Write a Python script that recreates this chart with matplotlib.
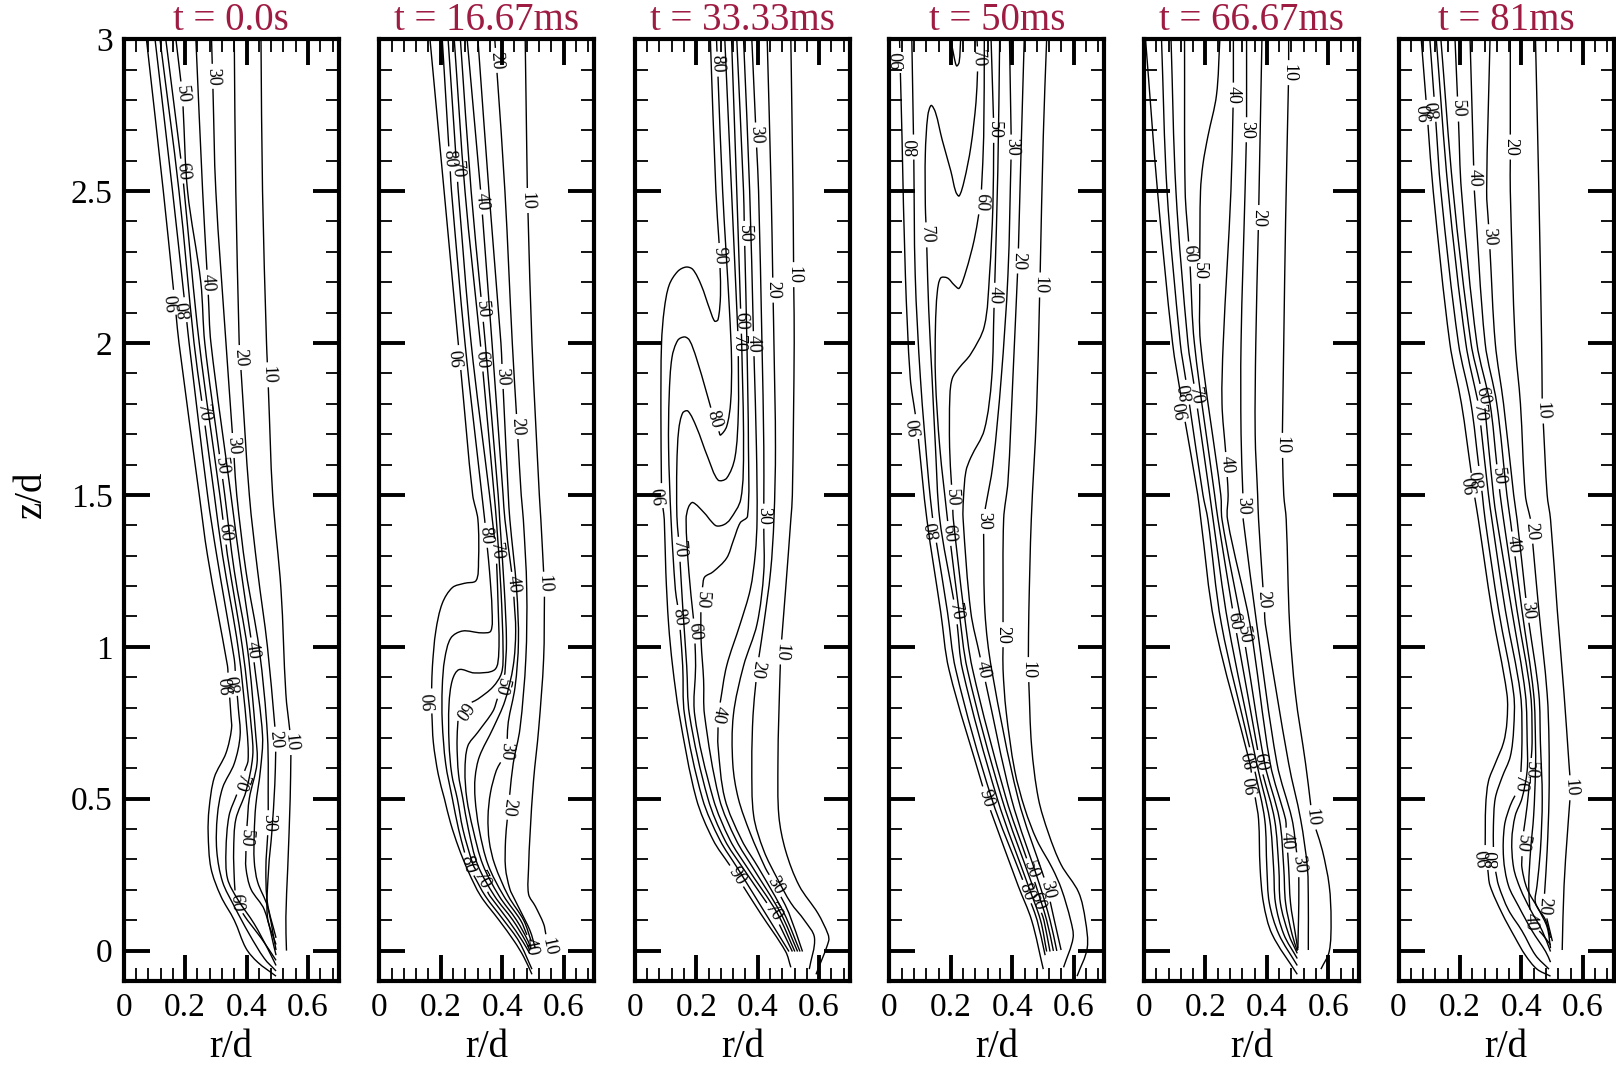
import numpy as np
import matplotlib
matplotlib.use('Agg')
import matplotlib.pyplot as plt
from matplotlib.ticker import MultipleLocator, FixedLocator
from matplotlib.path import Path
from matplotlib.patches import PathPatch

plt.rcParams['font.family'] = ['Liberation Serif', 'DejaVu Serif']

# ---------------- data ----------------
TITLES = ['t = 0.0s', 't = 16.67ms', 't = 33.33ms', 't = 50ms', 't = 66.67ms', 't = 81ms']
R_TICKS = [0, 0.2, 0.4, 0.6]
R_TICK_LABELS = ['0', '0.2', '0.4', '0.6']
Z_TICKS = [0, 0.5, 1, 1.5, 2, 2.5, 3]
Z_TICK_LABELS = ['0', '0.5', '1', '1.5', '2', '2.5', '3']

# contour lines: (level, r/d values, z/d values)
LINES_T0 = [
    (10, [0.447, 0.452, 0.465, 0.485, 0.512, 0.528, 0.545, 0.542, 0.534, 0.528, 0.530],
         [3.0, 2.5, 2.0, 1.5, 1.19, 0.845, 0.685, 0.50, 0.27, 0.11, 0.0]),
    (20, [0.360, 0.365, 0.376, 0.409, 0.436, 0.468, 0.496, 0.492, 0.482, 0.472, 0.468, 0.496],
         [3.0, 2.5, 2.0, 1.5, 1.25, 1.0, 0.696, 0.547, 0.386, 0.272, 0.111, 0.02]),
    (30, [0.286, 0.300, 0.333, 0.368, 0.398, 0.441, 0.468, 0.471, 0.463, 0.468, 0.496],
         [3.0, 2.5, 2.0, 1.5, 1.25, 0.994, 0.708, 0.421, 0.272, 0.157, 0.042]),
    (40, [0.235, 0.257, 0.284, 0.349, 0.382, 0.420, 0.452, 0.445, 0.430, 0.425, 0.425, 0.436, 0.468, 0.496],
         [3.0, 2.5, 2.0, 1.5, 1.25, 0.989, 0.708, 0.593, 0.478, 0.386, 0.295, 0.226, 0.146, 0.002]),
    (50, [0.170, 0.191, 0.208, 0.251, 0.264, 0.329, 0.360, 0.403, 0.430, 0.434, 0.409, 0.398, 0.398, 0.414, 0.458, 0.496],
         [3.0, 2.82, 2.5, 2.2, 2.0, 1.5, 1.25, 0.994, 0.708, 0.616, 0.501, 0.369, 0.272, 0.203, 0.134, -0.015]),
    (60, [0.137, 0.191, 0.197, 0.246, 0.313, 0.338, 0.387, 0.416, 0.420, 0.398, 0.365, 0.358, 0.360, 0.365, 0.403, 0.447, 0.496],
         [3.0, 2.566, 2.5, 2.0, 1.5, 1.30, 0.994, 0.73, 0.64, 0.524, 0.432, 0.329, 0.237, 0.157, 0.10, 0.042, -0.032]),
    (70, [0.118, 0.180, 0.229, 0.295, 0.322, 0.373, 0.401, 0.405, 0.376, 0.343, 0.333, 0.338, 0.371, 0.425, 0.468, 0.496],
         [3.0, 2.5, 2.0, 1.5, 1.30, 0.994, 0.73, 0.627, 0.536, 0.444, 0.329, 0.237, 0.169, 0.088, 0.008, -0.049]),
    (80, [0.102, 0.159, 0.213, 0.273, 0.303, 0.360, 0.373, 0.379, 0.360, 0.322, 0.305, 0.303, 0.322, 0.360, 0.409, 0.458, 0.496],
         [3.0, 2.5, 2.0, 1.5, 1.30, 0.96, 0.80, 0.708, 0.616, 0.536, 0.444, 0.329, 0.226, 0.146, 0.054, -0.026, -0.067]),
    (90, [0.074, 0.129, 0.180, 0.246, 0.273, 0.338, 0.349, 0.351, 0.333, 0.295, 0.278, 0.275, 0.284, 0.316, 0.360, 0.398, 0.436, 0.496],
         [3.0, 2.5, 2.0, 1.5, 1.30, 0.937, 0.776, 0.73, 0.65, 0.57, 0.467, 0.386, 0.272, 0.18, 0.10, 0.008, -0.038, -0.084]),
]
# labels: (level, r/d, z/d, reads upward)
LABELS_T0 = [(50, .191, 2.82, 0), (30, .295, 2.878, 0), (60, .191, 2.566, 0), (40, .273, 2.20, 0),
             (90, .164, 2.134, 1), (80, .213, 2.111, 1), (20, .376, 1.952, 0), (10, .463, 1.895, 0),
             (70, .267, 1.77, 0), (30, .36, 1.663, 0), (50, .322, 1.594, 0), (60, .333, 1.378, 0),
             (40, .42, .99, 0), (90, .343, .874, 1), (80, .371, .88, 1), (20, .496, .696, 0),
             (10, .545, .685, 0), (70, .398, .547, 0), (30, .471, .421, 0), (50, .398, .369, 0),
             (60, .365, .157, 0)]

LINES_T16 = [
    (10, [.475, .482, .497, .521, .526, .538, .535, .519, .502, .491, .486, .486, .508, .535, .552],
         [3.0, 2.5, 2.0, 1.5, 1.419, 1.189, .960, .731, .558, .386, .272, .186, .146, .088, .008]),
    (20, [.376, .409, .433, .462, .469, .480, .477, .458, .436, .420, .411, .411, .425, .440, .458, .491, .508],
         [3.0, 2.5, 2.0, 1.5, 1.419, 1.189, .960, .731, .616, .472, .364, .272, .203, .17, .134, .065, .008]),
    (30, [.321, .357, .396, .420, .425, .447, .453, .442, .420, .414, .381, .362, .354, .358, .376, .420, .470, .495],
         [3.0, 2.5, 2.0, 1.5, 1.419, 1.189, 1.017, .868, .753, .656, .593, .52, .44, .36, .283, .18, .10, .03]),
    (40, [.286, .330, .367, .403, .409, .436, .444, .436, .409, .370, .326, .312, .312, .325, .354, .405, .460, .490, .495],
         [3.0, 2.5, 2.0, 1.5, 1.419, 1.206, 1.052, .937, .822, .731, .639, .57, .5, .40, .283, .18, .10, .03, .005]),
    (50, [.264, .299, .345, .387, .392, .407, .414, .409, .398, .370, .321, .288, .279, .285, .305, .337, .390, .447, .485, .493],
         [3.0, 2.5, 2.0, 1.5, 1.419, 1.189, 1.017, .914, .868, .788, .719, .673, .593, .5, .40, .283, .18, .10, .03, .005]),
    (60, [.244, .279, .329, .374, .381, .396, .403, .398, .370, .321, .277, .257, .253, .258, .272, .290, .320, .375, .435, .477, .490],
         [3.0, 2.5, 2.0, 1.5, 1.419, 1.189, .983, .914, .868, .828, .805, .776, .685, .58, .5, .40, .283, .18, .10, .03, .0]),
    (70, [.224, .257, .299, .359, .368, .381, .387, .389, .376, .310, .260, .238, .227, .227, .236, .254, .272, .305, .360, .420, .467, .490],
         [3.0, 2.5, 2.0, 1.5, 1.419, 1.304, 1.132, .983, .925, .914, .925, .891, .811, .685, .58, .5, .40, .283, .18, .10, .03, -.01]),
    (80, [.205, .235, .279, .334, .343, .359, .367, .363, .332, .271, .233, .213, .205, .205, .216, .238, .258, .288, .345, .405, .455, .497],
         [3.0, 2.5, 2.0, 1.5, 1.419, 1.247, 1.12, 1.052, 1.046, 1.052, 1.029, .960, .868, .753, .616, .5, .40, .283, .18, .10, .03, -.061]),
    (90, [.165, .211, .257, .304, .321, .323, .315, .277, .238, .205, .184, .173, .169, .176, .192, .212, .232, .258, .290, .330, .390, .440, .470, .497],
         [3.0, 2.5, 2.0, 1.5, 1.419, 1.281, 1.218, 1.209, 1.195, 1.143, 1.052, .937, .822, .685, .58, .5, .42, .34, .26, .18, .10, .03, -.02, -.078]),
]
LABELS_T16 = [(20, .376, 2.93, 0), (80, .227, 2.606, 0), (70, .257, 2.572, 0), (40, .334, 2.464, 0),
              (10, .480, 2.469, 0), (50, .337, 2.111, 0), (90, .260, 1.952, 1), (60, .332, 1.947, 0),
              (30, .403, 1.89, 0), (20, .447, 1.725, 0), (80, .348, 1.367, 0), (70, .381, 1.315, 0),
              (40, .436, 1.206, 0), (10, .535, 1.206, 0), (50, .398, .868, 0), (90, .173, .822, 1),
              (60, .260, .80, 0), (30, .414, .656, 0), (20, .420, .472, 0), (80, .288, .283, 0),
              (70, .315, .220, 0), (40, .497, .014, 0), (10, .552, .014, 0)]

LINES_T33 = [
    (10, [.508, .515, .519, .513, .508, .491, .475, .469, .466, .469, .491, .535, .596, .629, .631, .590],
         [3.0, 2.5, 2.0, 1.5, 1.419, 1.189, .983, .776, .616, .444, .329, .214, .123, .054, .031, -.078]),
    (20, [.431, .444, .453, .458, .453, .442, .420, .398, .385, .381, .387, .420, .464, .508, .552, .585, .568],
         [3.0, 2.5, 2.0, 1.657, 1.419, 1.247, 1.075, .925, .776, .616, .444, .329, .237, .157, .10, .042, -.061]),
    (30, [.381, .403, .414, .420, .420, .420, .398, .354, .321, .319, .337, .376, .425, .458, .502, .546],
         [3.0, 2.5, 2.0, 1.657, 1.419, 1.247, 1.075, .937, .776, .616, .501, .386, .272, .214, .123, -.003]),
    (40, [.354, .374, .387, .396, .398, .392, .376, .343, .299, .271, .271, .293, .348, .403, .486, .538],
         [3.0, 2.5, 2.0, 1.657, 1.419, 1.304, 1.189, 1.075, .937, .776, .673, .501, .364, .272, .123, -.003]),
    (50, [.332, .354, .365, .370, .367, .343, .321, .299, .255, .227, .219, .215, .216, .224, .227, .275, .330, .385, .475, .530],
         [3.0, 2.5, 2.0, 1.657, 1.43, 1.408, 1.35, 1.292, 1.247, 1.229, 1.189, 1.12, 1.017, .891, .776, .501, .364, .272, .123, -.003]),
    (60, [.315, .332, .348, .354, .345, .310, .290, .266, .249, .227, .189, .175, .167, .176, .195, .198, .195, .255, .310, .367, .464, .521],
         [3.0, 2.5, 2.0, 1.657, 1.486, 1.419, 1.402, 1.398, 1.413, 1.44, 1.475, 1.46, 1.419, 1.247, 1.052, .937, .776, .501, .364, .272, .123, -.003]),
    (70, [.293, .315, .337, .337, .326, .299, .271, .238, .200, .173, .156, .143, .137, .137, .145, .156, .169, .178, .238, .293, .352, .453, .513],
         [3.0, 2.5, 2.0, 1.77, 1.623, 1.555, 1.549, 1.623, 1.725, 1.776, 1.770, 1.714, 1.60, 1.43, 1.321, 1.132, .937, .776, .501, .364, .272, .123, -.003]),
    (80, [.266, .286, .308, .315, .312, .299, .279, .260, .233, .200, .178, .162, .140, .121, .112, .110, .118, .132, .145, .156, .162, .220, .277, .334, .425, .502],
         [3.0, 2.5, 2.111, 1.941, 1.805, 1.725, 1.697, 1.742, 1.839, 1.952, 2.009, 2.020, 2.009, 1.952, 1.827, 1.657, 1.419, 1.189, 1.097, .937, .776, .501, .364, .272, .123, -.003]),
    (90, [.246, .264, .277, .279, .271, .260, .244, .216, .189, .167, .140, .112, .096, .087, .085, .087, .096, .101, .110, .123, .145, .200, .255, .315, .409, .491, .508],
         [3.0, 2.501, 2.288, 2.157, 2.077, 2.072, 2.111, 2.191, 2.242, 2.25, 2.236, 2.191, 2.111, 1.998, 1.77, 1.498, 1.419, 1.247, 1.075, .937, .776, .501, .364, .272, .123, -.003, -.055]),
]
LABELS_T33 = [(80, .271, 2.918, 0), (30, .403, 2.685, 0), (50, .365, 2.361, 0), (90, .277, 2.288, 0),
              (10, .513, 2.225, 0), (20, .447, 2.174, 0), (60, .348, 2.072, 0), (70, .337, 1.998, 0),
              (40, .398, 1.998, 0), (80, .260, 1.748, 0), (90, .090, 1.498, 1), (30, .403, 1.43, 0),
              (70, .145, 1.321, 0), (50, .216, 1.155, 0), (80, .145, 1.097, 0), (60, .195, 1.052, 0),
              (10, .475, .983, 0), (20, .398, .925, 0), (40, .271, .776, 0), (90, .337, .249, 0),
              (30, .458, .214, 0), (70, .453, .123, 0)]

LINES_T50 = [
    (10, [.512, .501, .490, .479, .462, .454, .452, .463, .485, .518, .559, .616, .638, .644, .611],
         [3.0, 2.68, 2.191, 1.77, 1.42, 1.115, .925, .673, .501, .386, .283, .192, .10, .008, -.084]),
    (20, [.439, .430, .419, .402, .386, .372, .370, .370, .380, .408, .441, .480, .530, .560, .590, .598, .567],
         [3.0, 2.68, 2.27, 1.884, 1.543, 1.42, 1.115, .925, .788, .593, .467, .364, .272, .203, .10, .042, -.055]),
    (30, [.391, .397, .386, .364, .337, .306, .311, .333, .419, .512, .537, .559],
         [3.0, 2.645, 2.225, 1.884, 1.6, 1.42, 1.115, .925, .501, .214, .10, .002]),
    (40, [.359, .353, .342, .333, .309, .265, .249, .241, .240, .265, .304, .397, .490, .523, .545],
         [3.0, 2.566, 2.157, 1.884, 1.714, 1.623, 1.577, 1.486, 1.42, 1.115, .925, .501, .214, .10, -.001]),
    (50, [.331, .340, .337, .326, .309, .265, .227, .205, .197, .196, .208, .243, .271, .380, .477, .512, .534],
         [3.0, 2.702, 2.452, 2.225, 2.055, 1.964, 1.918, 1.884, 1.827, 1.657, 1.42, 1.115, .925, .501, .214, .10, -.001]),
    (60, [.309, .307, .298, .276, .249, .227, .211, .189, .167, .156, .150, .150, .164, .189, .227, .254, .366, .466, .503, .523],
         [3.0, 2.68, 2.464, 2.339, 2.236, 2.18, 2.191, 2.214, 2.214, 2.168, 2.055, 1.884, 1.657, 1.42, 1.115, .925, .501, .214, .10, -.003]),
    (70, [.285, .289, .282, .265, .243, .227, .216, .200, .172, .150, .136, .125, .117, .117, .121, .128, .139, .150, .164, .216, .238, .351, .452, .492, .512],
         [3.0, 2.935, 2.793, 2.645, 2.532, 2.484, 2.498, 2.566, 2.668, 2.759, 2.782, 2.748, 2.623, 2.452, 2.339, 2.111, 1.884, 1.657, 1.42, 1.115, .925, .501, .214, .10, -.003]),
    (80, [.073, .079, .084, .101, .128, .141, .189, .216, .333, .441, .481, .507],
         [3.0, 2.645, 2.225, 1.884, 1.543, 1.42, 1.115, .925, .501, .214, .10, -.015]),
    (80, [.200, .211, .219, .227, .232],
         [3.0, 2.94, 2.912, 2.924, 3.0]),
    (90, [.033, .041, .052, .068, .090, .122, .167, .194, .315, .419, .463, .501],
         [3.0, 2.68, 2.225, 1.884, 1.725, 1.42, 1.115, .925, .501, .214, .10, -.061]),
]
LABELS_T50 = [(90, .037, 2.93, 1), (70, .289, 2.935, 0), (80, .079, 2.645, 1), (50, .340, 2.70, 0),
              (30, .397, 2.645, 0), (60, .298, 2.464, 0), (70, .123, 2.356, 0), (20, .419, 2.27, 0),
              (10, .490, 2.191, 0), (40, .342, 2.157, 0), (90, .090, 1.725, 1), (50, .200, 1.492, 0),
              (30, .309, 1.413, 0), (80, .150, 1.384, 1), (60, .194, 1.373, 0), (70, .216, 1.115, 0),
              (20, .370, 1.04, 0), (40, .304, .925, 0), (10, .452, .925, 0), (90, .315, .501, 0),
              (50, .463, .266, 0), (30, .523, .203, 0), (80, .441, .192, 0), (60, .480, .163, 0)]

LINES_T66 = [
    (10, [.471, .471, .461, .455, .450, .455, .463, .474, .493, .526, .548, .581, .603, .609, .603, .576],
         [3.0, 2.89, 2.4, 2.0, 1.663, 1.5, 1.419, 1.075, .845, .616, .438, .329, .214, .10, -.003, -.061]),
    (20, [.384, .373, .364, .362, .370, .373, .395, .471, .510, .532, .535, .535, .535],
         [3.0, 2.413, 2.0, 1.7, 1.5, 1.419, 1.075, .616, .432, .272, .157, .054, .002]),
    (30, [.334, .334, .329, .316, .316, .323, .323, .367, .433, .482, .504, .504, .502, .501],
         [3.0, 2.702, 2.5, 2.0, 1.7, 1.464, 1.419, 1.075, .616, .432, .272, .157, .054, .008]),
    (40, [.291, .291, .283, .258, .254, .269, .274, .272, .345, .411, .461, .471, .477, .493, .501],
         [3.0, 2.816, 2.5, 2.0, 1.8, 1.6, 1.5, 1.419, 1.075, .616, .432, .272, .157, .054, .002]),
    (50, [.247, .236, .208, .192, .184, .181, .184, .250, .254, .318, .393, .441, .455, .461, .482, .499],
         [3.0, 2.816, 2.68, 2.589, 2.5, 2.236, 2.0, 1.5, 1.419, 1.075, .616, .432, .272, .157, .054, -.001]),
    (60, [.132, .134, .148, .164, .230, .241, .296, .378, .425, .439, .444, .471, .499],
         [3.0, 2.5, 2.293, 2.0, 1.5, 1.419, 1.075, .616, .432, .272, .157, .054, -.009]),
    (70, [.088, .104, .143, .168, .214, .225, .274, .367, .409, .422, .428, .455, .499],
         [3.0, 2.5, 2.0, 1.827, 1.5, 1.419, 1.075, .616, .432, .272, .157, .054, -.026]),
    (80, [.057, .075, .118, .142, .192, .208, .252, .356, .393, .400, .408, .439, .499],
         [3.0, 2.5, 2.0, 1.839, 1.5, 1.419, 1.075, .616, .432, .272, .157, .054, -.049]),
    (90, [.005, .044, .093, .127, .175, .185, .230, .345, .373, .378, .389, .417, .499],
         [3.0, 2.5, 2.0, 1.782, 1.5, 1.419, 1.075, .616, .432, .272, .157, .054, -.078]),
]
LABELS_T66 = [(10, .471, 2.89, 0), (40, .291, 2.816, 0), (30, .334, 2.702, 0), (20, .373, 2.413, 0),
              (60, .148, 2.293, 0), (50, .181, 2.236, 0), (80, .148, 1.839, 1), (70, .181, 1.827, 0),
              (90, .132, 1.782, 1), (10, .450, 1.663, 0), (40, .269, 1.60, 0), (30, .323, 1.464, 0),
              (20, .389, 1.155, 0), (60, .296, 1.086, 0), (50, .323, 1.04, 0), (80, .356, .63, 1),
              (60, .378, .62, 0), (90, .367, .547, 1), (10, .548, .438, 0), (40, .471, .364, 0),
              (30, .504, .283, 0)]

LINES_T81 = [
    (10, [.446, .457, .466, .468, .484, .495, .517, .539, .555, .561, .550, .539, .533],
         [3.0, 2.5, 2.0, 1.8, 1.5, 1.419, 1.12, .845, .616, .536, .386, .214, .002]),
    (20, [.364, .364, .380, .397, .413, .430, .457, .484, .490, .490, .484, .473, .490, .501],
         [3.0, 2.5, 2.0, 1.8, 1.5, 1.419, 1.12, .845, .685, .501, .329, .146, .077, .031]),
    (30, [.298, .287, .315, .342, .375, .386, .419, .457, .462, .468, .462, .451, .446, .479, .495],
         [3.0, 2.5, 2.0, 1.8, 1.5, 1.419, 1.12, .845, .685, .501, .329, .214, .157, .10, .042]),
    (40, [.233, .247, .282, .320, .353, .364, .402, .440, .446, .446, .440, .430, .424, .430, .468, .495],
         [3.0, 2.5, 2.0, 1.8, 1.5, 1.419, 1.12, .845, .685, .593, .444, .329, .214, .094, .054, .019]),
    (50, [.184, .205, .255, .298, .331, .342, .386, .430, .435, .430, .419, .402, .402, .419, .457, .484, .495],
         [3.0, 2.5, 2.0, 1.8, 1.5, 1.419, 1.12, .845, .685, .593, .478, .352, .272, .203, .134, .077, .008]),
    (60, [.138, .178, .236, .280, .309, .320, .369, .413, .419, .419, .402, .380, .369, .375, .397, .430, .468, .495],
         [3.0, 2.5, 2.0, 1.8, 1.5, 1.419, 1.12, .845, .685, .593, .501, .444, .364, .272, .203, .134, .065, -.003]),
    (70, [.123, .162, .219, .260, .293, .304, .348, .397, .402, .397, .364, .345, .342, .358, .391, .435, .479, .495],
         [3.0, 2.5, 2.0, 1.8, 1.5, 1.419, 1.12, .845, .685, .547, .478, .411, .306, .214, .146, .065, -.003, -.038]),
    (80, [.102, .138, .195, .236, .273, .282, .326, .375, .375, .364, .337, .315, .309, .309, .326, .358, .402, .446, .490],
         [3.0, 2.5, 2.0, 1.8, 1.5, 1.419, 1.12, .845, .731, .639, .570, .501, .411, .295, .214, .134, .065, -.015, -.061]),
    (90, [.074, .113, .167, .205, .247, .260, .304, .353, .353, .342, .315, .293, .284, .282, .298, .337, .380, .413, .451, .495],
         [3.0, 2.5, 2.0, 1.8, 1.5, 1.419, 1.12, .845, .753, .685, .616, .558, .478, .329, .214, .123, .042, -.015, -.061, -.084]),
]
LABELS_T81 = [(90, .091, 2.759, 1), (80, .127, 2.77, 1), (50, .192, 2.77, 0), (20, .353, 2.645, 0),
              (40, .244, 2.543, 0), (30, .298, 2.35, 0), (60, .282, 1.827, 0), (70, .266, 1.77, 0),
              (10, .468, 1.776, 0), (90, .244, 1.532, 1), (80, .271, 1.555, 1), (50, .326, 1.56, 0),
              (20, .427, 1.38, 0), (40, .369, 1.338, 0), (30, .419, 1.12, 0), (50, .430, .593, 0),
              (70, .397, .547, 0), (10, .561, .536, 0), (50, .402, .352, 0), (90, .282, .306, 1),
              (80, .304, .30, 1), (20, .473, .146, 0), (40, .430, .094, 0)]

PANELS = [(TITLES[0], LINES_T0, LABELS_T0), (TITLES[1], LINES_T16, LABELS_T16),
          (TITLES[2], LINES_T33, LABELS_T33), (TITLES[3], LINES_T50, LABELS_T50),
          (TITLES[4], LINES_T66, LABELS_T66), (TITLES[5], LINES_T81, LABELS_T81)]

TITLE_COLOR = '#9e1b42'
LABEL_SIZE = 13
HALF_GAP = 12.5   # px of line removed each side of a label centre


def smooth_path(ax, r, z):
    """Smooth curve through the points (cubic Bezier pieces), built in pixel space."""
    P = ax.transData.transform(np.column_stack([r, z]))
    n = len(P)
    if n < 2:
        return None
    d = np.maximum(np.hypot(*np.diff(P, axis=0).T), 1e-9)
    tang = np.zeros_like(P)
    tang[0] = (P[1] - P[0]) / d[0]
    tang[-1] = (P[-1] - P[-2]) / d[-1]
    for i in range(1, n - 1):
        tang[i] = (P[i + 1] - P[i - 1]) / (d[i - 1] + d[i])
    verts = [P[0]]
    codes = [Path.MOVETO]
    for i in range(n - 1):
        verts += [P[i] + tang[i] * d[i] / 3, P[i + 1] - tang[i + 1] * d[i] / 3, P[i + 1]]
        codes += [Path.CURVE4] * 3
    verts = ax.transData.inverted().transform(np.array(verts))
    return Path(verts, codes)


def draw_panel(ax, lines, labels):
    pts_list = [ax.transData.transform(np.column_stack([r, z])) for _, r, z in lines]
    cuts = [[] for _ in lines]
    texts = []
    # put each label on the nearest point of a line with the same level
    for lev, r0, z0, up in labels:
        p = ax.transData.transform((r0, z0))
        best = None
        for k, (level, r, z) in enumerate(lines):
            if level != lev:
                continue
            pts = pts_list[k]
            a = pts[:-1]
            d = pts[1:] - pts[:-1]
            L2 = (d ** 2).sum(1)
            L2[L2 == 0] = 1e-9
            t = np.clip(((p - a) * d).sum(1) / L2, 0, 1)
            q = a + t[:, None] * d
            dist = np.hypot(*(q - p).T)
            i = int(np.argmin(dist))
            if best is None or dist[i] < best[0]:
                best = (dist[i], k, i, t[i], q[i], d[i])
        _, k, i, t, q, d = best
        seg = np.hypot(*np.diff(pts_list[k], axis=0).T)
        cuts[k].append(seg[:i].sum() + t * seg[i])
        ang = np.degrees(np.arctan2(d[1], d[0]))
        if ang > 0:
            ang -= 180
        if up:
            ang += 180
        texts.append((ax.transData.inverted().transform(q), ang, lev))

    for k, (level, r, z) in enumerate(lines):
        pts = pts_list[k]
        seg = np.hypot(*np.diff(pts, axis=0).T)
        s = np.concatenate([[0], np.cumsum(seg)])
        keep = [(0.0, s[-1])]
        for c in cuts[k]:
            nxt = []
            for a, b in keep:
                if c - HALF_GAP > a:
                    nxt.append((a, min(b, c - HALF_GAP)))
                if c + HALF_GAP < b:
                    nxt.append((max(a, c + HALF_GAP), b))
            keep = nxt
        for a, b in keep:
            inner = s[(s > a + 1.0) & (s < b - 1.0)]
            ss = np.concatenate([[a], inner, [b]])
            path = smooth_path(ax, np.interp(ss, s, r), np.interp(ss, s, z))
            if path is not None:
                ax.add_patch(PathPatch(path, fill=False, edgecolor='black', lw=1.0,
                                       joinstyle='round', capstyle='butt', zorder=2))

    for xy, ang, lev in texts:
        ax.text(xy[0], xy[1], str(lev), rotation=ang, rotation_mode='anchor',
                ha='center', va='center', fontsize=LABEL_SIZE, zorder=3, clip_on=True)


fig = plt.figure(figsize=(16.16, 10.67), dpi=100)
W, H = 1616.0, 1067.0
lefts = [123.7, 379.3, 634.8, 889.4, 1144.0, 1398.5]
ax_w, ax_top, ax_bot = 215.0, 39.2, 981.0

for n, (title, lines, labels) in enumerate(PANELS):
    ax = fig.add_axes([lefts[n] / W, 1 - ax_bot / H, ax_w / W, (ax_bot - ax_top) / H])
    ax.set_xlim(0, 0.7)
    ax.set_ylim(-0.1, 3.0)
    ax.xaxis.set_major_locator(FixedLocator(R_TICKS))
    ax.set_xticklabels(R_TICK_LABELS)
    ax.yaxis.set_major_locator(FixedLocator(Z_TICKS))
    ax.xaxis.set_minor_locator(MultipleLocator(0.04))
    ax.yaxis.set_minor_locator(MultipleLocator(0.1))
    if n == 0:
        ax.set_yticklabels(Z_TICK_LABELS)
    else:
        ax.set_yticklabels([])
    ax.tick_params(which='major', direction='in', length=18.5, width=2.8, top=True, right=True,
                   labelsize=24, pad=8)
    ax.tick_params(which='minor', direction='in', length=9.5, width=1.3, top=True, right=True)
    for sp in ax.spines.values():
        sp.set_linewidth(3.0)
    ax.set_title(title, color=TITLE_COLOR, fontsize=28, pad=5)
    ax.text(0.5, -0.071, 'r/d', transform=ax.transAxes, ha='center', va='center', fontsize=28)
    draw_panel(ax, lines, labels)

fig.text(31 / W, 1 - 494.7 / H, 'z/d', rotation=90, ha='center', va='center', fontsize=28)

fig.savefig('out.png', dpi=100)
